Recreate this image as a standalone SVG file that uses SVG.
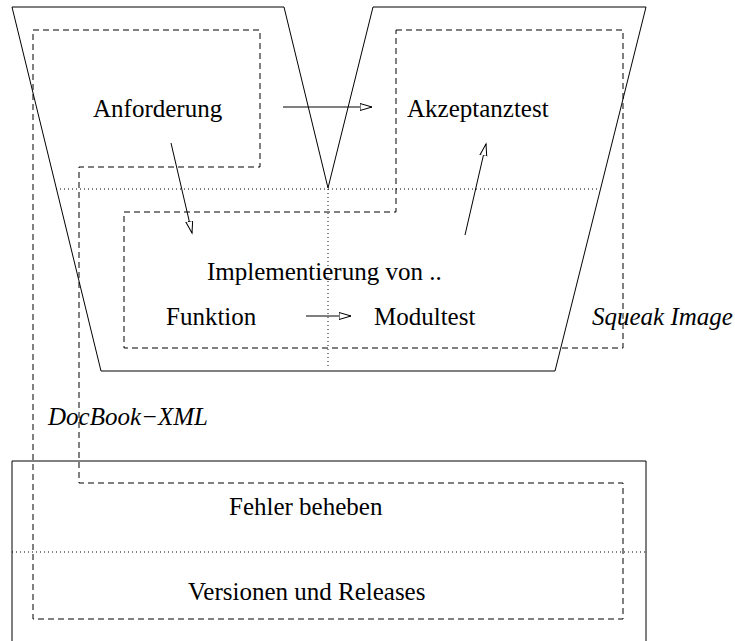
<svg xmlns="http://www.w3.org/2000/svg" width="735" height="641" viewBox="0 0 735 641">
<defs>
<style>
.solid{fill:none;stroke:#000;stroke-width:1}
.dash{fill:none;stroke:#000;stroke-width:1;stroke-dasharray:6 4}
.dot{fill:none;stroke:#000;stroke-width:1;stroke-dasharray:1 3}
.lbl{font-size:25px;fill:#000}
.it{font-style:italic}
.conn{fill:none;stroke:#000;stroke-width:1;marker-end:url(#open)}
</style>
<marker id="open" markerUnits="userSpaceOnUse" markerWidth="14" markerHeight="10" refX="12" refY="4" orient="auto">
<path d="M0,0.5 L12,4 L0,7.5 Z" fill="#fff" stroke="#000" stroke-width="1"/>
</marker>
</defs>
<rect width="735" height="641" fill="#fff"/>
<g font-family="'Liberation Serif', 'DejaVu Serif', serif">
<g id="image-outline">
<polygon class="solid" points="12,7 284,7 328,188 373,7 646,7 555,371 101,371"/>
<line class="dot" x1="56" y1="189" x2="600" y2="189"/>
<line class="dot" x1="328" y1="189" x2="328" y2="369"/>
</g>
<g id="release-box">
<polyline class="solid" points="12,645 12,461 646,461 646,645"/>
<line class="dot" x1="12" y1="552" x2="646" y2="552"/>
</g>
<g id="docbook-region">
<polygon class="dash" points="33,30 260,30 260,167 79,167 79,483 623,483 623,619 33,619"/>
<text class="lbl it" x="48" y="425">DocBook−XML</text>
</g>
<g id="squeak-region">
<polygon class="dash" points="396,30 623,30 623,348 124,348 124,212 396,212"/>
<text class="lbl it" x="592" y="325">Squeak Image</text>
</g>
<g id="anforderung"><text class="lbl" x="93" y="117">Anforderung</text></g>
<g id="akzeptanztest"><text class="lbl" x="407" y="117">Akzeptanztest</text></g>
<g id="implementierung"><text class="lbl" x="207" y="280">Implementierung von ..</text></g>
<g id="funktion"><text class="lbl" x="166" y="325">Funktion</text></g>
<g id="modultest"><text class="lbl" x="374" y="325">Modultest</text></g>
<g id="fehler"><text class="lbl" x="229" y="515">Fehler beheben</text></g>
<g id="versionen"><text class="lbl" x="188" y="600">Versionen und Releases</text></g>
<g id="connectors">
<line class="conn" x1="283" y1="107" x2="372" y2="107"/>
<line class="conn" x1="171" y1="143" x2="192" y2="233"/>
<line class="conn" x1="465" y1="235" x2="486" y2="144"/>
<line class="conn" x1="306" y1="316" x2="351" y2="316"/>
</g>
</g>
</svg>
